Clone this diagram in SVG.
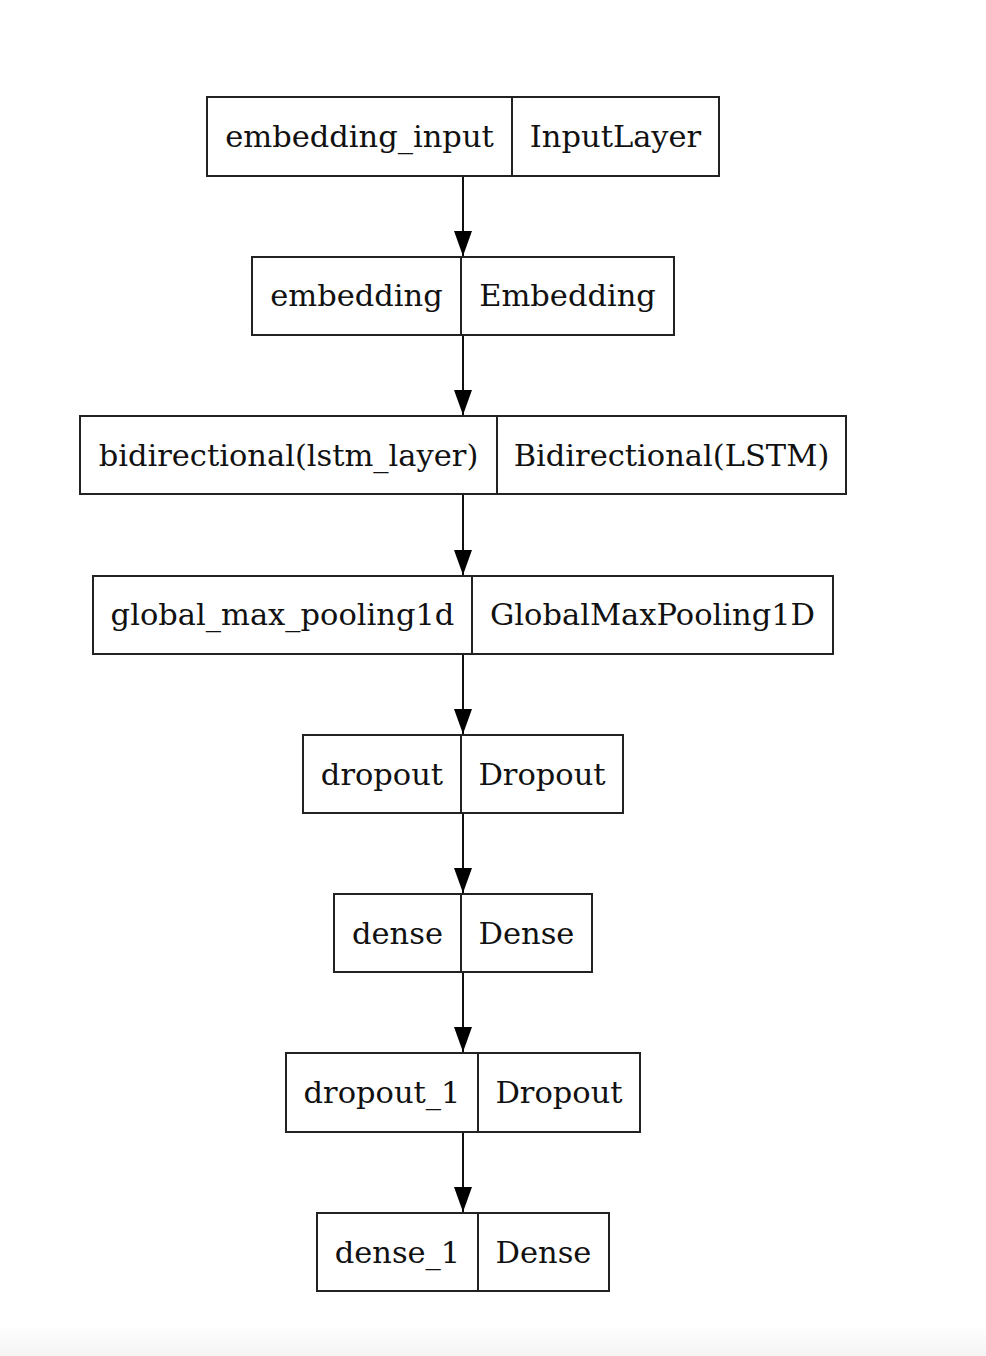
<svg xmlns="http://www.w3.org/2000/svg" width="986" height="1356" viewBox="0 0 986 1356">
<defs>
<style>
.box{fill:#fff;stroke:#222;stroke-width:2}
.div{stroke:#222;stroke-width:2}
text{font-family:"DejaVu Serif",serif;font-size:30.5px;fill:#111;text-anchor:middle}
.edge{stroke:#111;stroke-width:2;fill:none}
</style>
<marker id="ah" markerWidth="18" markerHeight="26" viewBox="0 0 18 26" refX="9" refY="25" orient="0" markerUnits="userSpaceOnUse">
<path d="M0,0 L18,0 L9,25 z" fill="#000"/>
</marker>
<linearGradient id="bg" x1="0" y1="0" x2="0" y2="1">
<stop offset="0" stop-color="#fff"/>
<stop offset="1" stop-color="#f4f4f4"/>
</linearGradient>
</defs>
<rect width="986" height="1356" fill="#fff"/>
<rect x="0" y="1325" width="986" height="31" fill="url(#bg)"/>
<g id="connectors">
<line class="edge" x1="463" y1="176" x2="463" y2="256" marker-end="url(#ah)"/>
<line class="edge" x1="463" y1="335" x2="463" y2="415" marker-end="url(#ah)"/>
<line class="edge" x1="463" y1="494" x2="463" y2="575" marker-end="url(#ah)"/>
<line class="edge" x1="463" y1="654" x2="463" y2="734" marker-end="url(#ah)"/>
<line class="edge" x1="463" y1="813" x2="463" y2="893" marker-end="url(#ah)"/>
<line class="edge" x1="463" y1="972" x2="463" y2="1052" marker-end="url(#ah)"/>
<line class="edge" x1="463" y1="1132" x2="463" y2="1212" marker-end="url(#ah)"/>
</g>
<g id="node-embedding_input">
<rect class="box" x="207" y="97" width="512" height="79"/>
<line class="div" x1="512" y1="97" x2="512" y2="176"/>
<text x="359.5" y="147">embedding_input</text>
<text x="615.5" y="147">InputLayer</text>
</g>
<g id="node-embedding">
<rect class="box" x="252" y="257" width="422" height="78"/>
<line class="div" x1="461" y1="257" x2="461" y2="335"/>
<text x="356.5" y="306">embedding</text>
<text x="567.5" y="306">Embedding</text>
</g>
<g id="node-bidirectional">
<rect class="box" x="80" y="416" width="766" height="78"/>
<line class="div" x1="497" y1="416" x2="497" y2="494"/>
<text x="288.5" y="466">bidirectional(lstm_layer)</text>
<text x="671.5" y="466">Bidirectional(LSTM)</text>
</g>
<g id="node-global_max_pooling1d">
<rect class="box" x="93" y="576" width="740" height="78"/>
<line class="div" x1="472" y1="576" x2="472" y2="654"/>
<text x="282.5" y="625">global_max_pooling1d</text>
<text x="652.5" y="625">GlobalMaxPooling1D</text>
</g>
<g id="node-dropout">
<rect class="box" x="303" y="735" width="320" height="78"/>
<line class="div" x1="461" y1="735" x2="461" y2="813"/>
<text x="382" y="785">dropout</text>
<text x="542" y="785">Dropout</text>
</g>
<g id="node-dense">
<rect class="box" x="334" y="894" width="258" height="78"/>
<line class="div" x1="461" y1="894" x2="461" y2="972"/>
<text x="397.5" y="944">dense</text>
<text x="526.5" y="944">Dense</text>
</g>
<g id="node-dropout_1">
<rect class="box" x="286" y="1053" width="354" height="79"/>
<line class="div" x1="478" y1="1053" x2="478" y2="1132"/>
<text x="382" y="1103">dropout_1</text>
<text x="559" y="1103">Dropout</text>
</g>
<g id="node-dense_1">
<rect class="box" x="317" y="1213" width="292" height="78"/>
<line class="div" x1="478" y1="1213" x2="478" y2="1291"/>
<text x="397.5" y="1263">dense_1</text>
<text x="543.5" y="1263">Dense</text>
</g>
</svg>
